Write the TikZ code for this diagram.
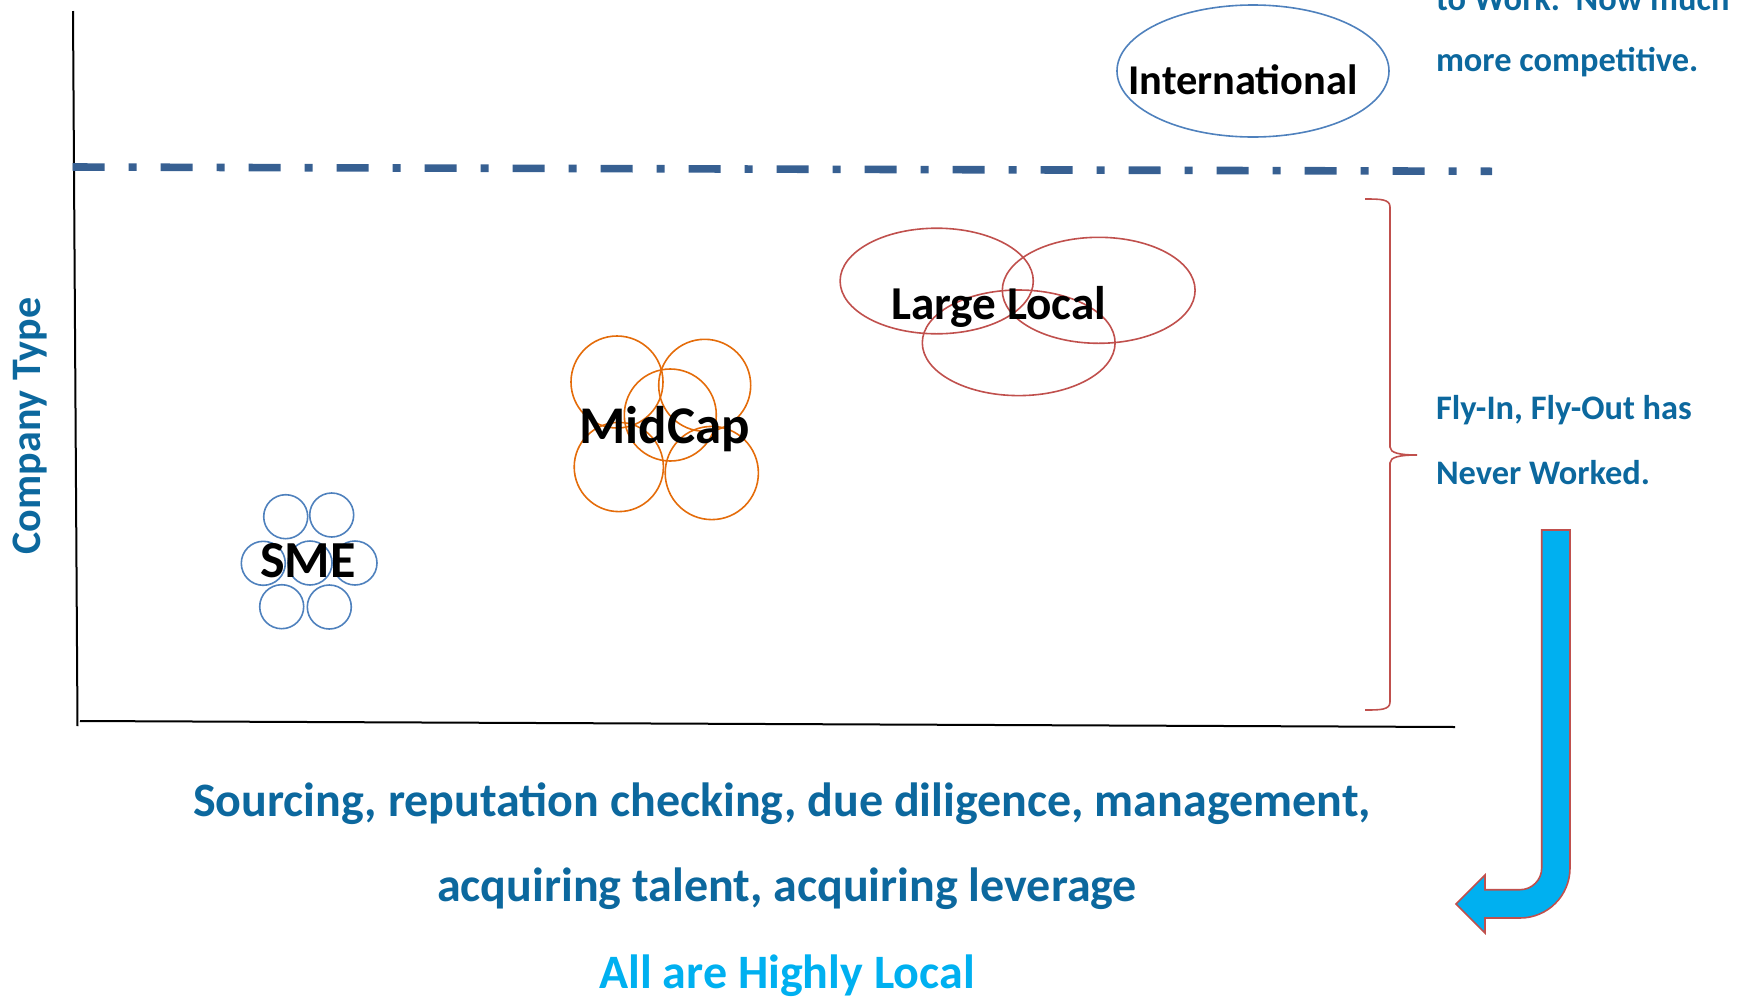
\documentclass[tikz,border=0pt]{standalone}
\usepackage{fontspec}
\setmainfont{Carlito}
\definecolor{txtblue}{RGB}{12,104,158}
\definecolor{cyantxt}{RGB}{0,176,240}
\definecolor{cblue}{RGB}{79,129,189}
\definecolor{corange}{RGB}{228,108,10}
\definecolor{cred}{RGB}{192,80,77}
\definecolor{dashblue}{RGB}{55,96,146}
\begin{document}
\begin{tikzpicture}[x=0.5pt,y=-0.5pt,
  lbl/.style={font=\bfseries, inner sep=0pt, outer sep=0pt},
  axis/.style={black, line width=1pt},
  smec/.style={cblue, line width=0.8pt},
  midc/.style={corange, line width=0.8pt},
  largec/.style={cred, line width=0.8pt},
  sidetxt/.style={lbl, anchor=west, text=txtblue, font=\bfseries\fontsize{17.2}{20}\selectfont},
  bottxt/.style={lbl, text=txtblue, font=\bfseries\fontsize{24}{28}\selectfont}]
\useasboundingbox (0,0) rectangle (1737,997);

% axes
\coordinate (yTop) at (73,11);
\coordinate (yBot) at (77.5,726);
\coordinate (xL) at (80,721);
\coordinate (xR) at (1455,727);
\draw[axis] (yTop) -- (yBot);
\draw[axis] (xL) -- (xR);

% dash-dot separator
\coordinate (dL) at (72.7,167);
\coordinate (dR) at (1492,171.3);
\draw[dashblue, line width=3.8pt, dash pattern=on 16pt off 12pt on 4pt off 12pt] (dL) -- (dR);

% International
\draw[cblue, line width=0.8pt] (1253,71) ellipse[x radius=68pt, y radius=33pt];
\node[lbl, font=\bfseries\fontsize{21.2}{25}\selectfont] (intl) at (1243,80) {International};

% SME circles
\foreach \cx/\cy in {285.7/516.7, 331.7/515, 263.3/563.3, 310/563, 355/563, 281.7/606.7, 329.3/607}
  \draw[smec] (\cx,\cy) circle[radius=11pt];
\node[lbl, font=\bfseries\fontsize{26}{31}\selectfont] (sme) at (308,561) {SME};

% MidCap circles
\draw[midc] (617,382) circle[radius=23pt];
\draw[midc] (704.7,385.3) circle[radius=23pt];
\draw[midc] (670.3,415) circle[radius=23pt];
\draw[midc] (618.8,467) circle[radius=22.3pt];
\draw[midc] (711.8,473) circle[radius=23.3pt];
\node[lbl, font=\bfseries\fontsize{26.5}{31}\selectfont] (mid) at (664.5,429) {MidCap};

% Large Local ellipses
\draw[largec] (936.7,281) ellipse[x radius=48.3pt, y radius=26.4pt];
\draw[largec] (1098.7,290.3) ellipse[x radius=48.2pt, y radius=26.5pt];
\draw[largec] (1018.7,342.8) ellipse[x radius=48.2pt, y radius=26.4pt];
\node[lbl, font=\bfseries\fontsize{23.6}{28}\selectfont] (large) at (998.8,307) {Large Local};

% brace
\draw[cred, line width=0.8pt]
  (1365,199) .. controls (1380,199) and (1390,199) .. (1390,207)
  -- (1390,447) .. controls (1390,453) and (1400,455) .. (1417,455)
  .. controls (1400,455) and (1390,457) .. (1390,463)
  -- (1390,702) .. controls (1390,710) and (1380,710) .. (1365,710);

% side texts
\node[sidetxt] (t0) at (1436,-1) {to Work.\ \ Now much};
\node[sidetxt] (t1) at (1436,62.5) {more competitive.};
\node[sidetxt] (t2) at (1436,410) {Fly-In, Fly-Out has};
\node[sidetxt] (t3) at (1436,472.5) {Never Worked.};

% bent arrow
\draw[cred, line width=0.8pt, fill=cyantxt]
  (1541.7,530) -- (1570,530) -- (1570,868)
  .. controls (1570,895.6) and (1547.6,918) .. (1520,918)
  -- (1485,918) -- (1485,933) -- (1456,904) -- (1485,875) -- (1485,889.7)
  -- (1520,889.7) .. controls (1532,889.7) and (1541.7,880) .. (1541.7,868) -- cycle;

% y label
\node[lbl, rotate=90, text=txtblue, font=\bfseries\fontsize{21}{25}\selectfont] (ylab) at (30,426) {Company Type};

% bottom texts
\node[bottxt] (b1) at (782,804) {Sourcing, reputation checking, due diligence, management,};
\node[bottxt] (b2) at (787,889) {acquiring talent, acquiring leverage};
\node[bottxt, text=cyantxt] (b3) at (787,976) {All are Highly Local};
\end{tikzpicture}
\end{document}
